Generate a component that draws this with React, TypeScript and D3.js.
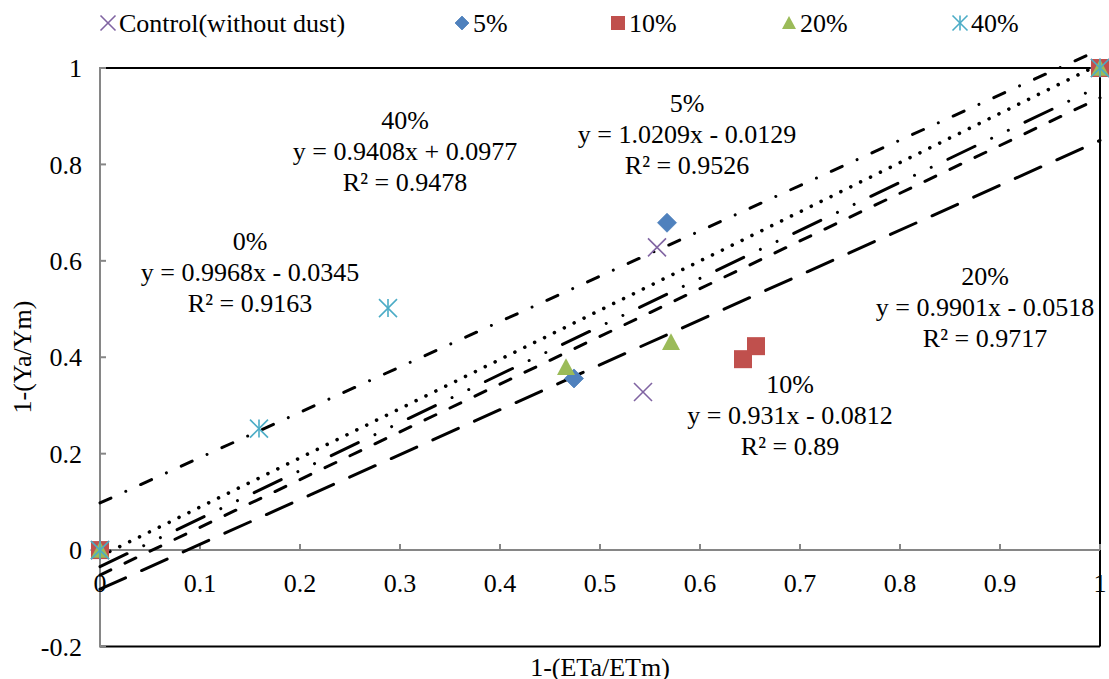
import React from 'react';
import * as d3 from 'd3';

// series points
const controlX = [0, 0.543, 0.557, 1];
const controlY = [0, 0.328, 0.628, 1];
const p5X = [0, 0.474, 0.567, 1];
const p5Y = [0, 0.356, 0.679, 1];
const p10X = [0, 0.643, 0.656, 1];
const p10Y = [0, 0.396, 0.423, 1];
const p20X = [0, 0.466, 0.571, 1];
const p20Y = [0, 0.379, 0.431, 1];
const p40X = [0, 0.159, 0.288, 1];
const p40Y = [0, 0.252, 0.502, 1];

const seriesNames = ['Control(without dust)', '5%', '10%', '20%', '40%'];
const seriesColors = ['#8064A2', '#4F81BD', '#C0504D', '#9BBB59', '#4BACC6'];

// trendlines: 0%, 5%, 10%, 20%, 40%
const trendNames = ['0%', '5%', '10%', '20%', '40%'];
const trendSlopes = [0.9968, 1.0209, 0.931, 0.9901, 0.9408];
const trendIntercepts = [-0.0345, -0.0129, -0.0812, -0.0518, 0.0977];
const trendEquations = ['y = 0.9968x - 0.0345', 'y = 1.0209x - 0.0129', 'y = 0.931x - 0.0812', 'y = 0.9901x - 0.0518', 'y = 0.9408x + 0.0977'];
const trendR2 = ['R² = 0.9163', 'R² = 0.9526', 'R² = 0.89', 'R² = 0.9717', 'R² = 0.9478'];

const xTicks = [0, 0.1, 0.2, 0.3, 0.4, 0.5, 0.6, 0.7, 0.8, 0.9, 1];
const yTicks = [-0.2, 0, 0.2, 0.4, 0.6, 0.8, 1];

const W = 1109;
const H = 679;
const FONT = '"Liberation Serif", "Times New Roman", serif';
const FS = 26;

const x = d3.scaleLinear().domain([0, 1]).range([100, 1100]);
const y = d3.scaleLinear().domain([-0.2, 1]).range([646.5, 68]);

// dash styles per trendline
const dashes = ['30 18.5 0.01 18.5 0.01 18.5', '0.01 11', '28 17.6', '12 15.7', '12 16.3 0.01 16.3'];
const labelPos: [number, number][] = [[250, 241], [687, 103], [790, 384], [985, 276], [405, 120]];

// plain hyphen for negatives, like the original
const tickFmt = (t: number) => String(+t.toFixed(1));

function Marker({ kind, cx, cy, s }: { kind: number; cx: number; cy: number; s: number }) {
  const c = seriesColors[kind];
  const h = s / 2;
  if (kind === 0) {
    return (
      <g stroke={c} strokeWidth={1.6}>
        <line x1={cx - h} y1={cy - h} x2={cx + h} y2={cy + h} />
        <line x1={cx - h} y1={cy + h} x2={cx + h} y2={cy - h} />
      </g>
    );
  }
  if (kind === 1) {
    return <path d={`M${cx},${cy - h}L${cx + h},${cy}L${cx},${cy + h}L${cx - h},${cy}Z`} fill={c} stroke={c} strokeWidth={0.8} />;
  }
  if (kind === 2) {
    return <rect x={cx - h} y={cy - h} width={s} height={s} fill={c} />;
  }
  if (kind === 3) {
    return <path d={`M${cx},${cy - h}L${cx + h},${cy + h * 0.85}L${cx - h},${cy + h * 0.85}Z`} fill={c} />;
  }
  return (
    <g stroke={c} strokeWidth={1.6}>
      <line x1={cx - h} y1={cy - h} x2={cx + h} y2={cy + h} />
      <line x1={cx - h} y1={cy + h} x2={cx + h} y2={cy - h} />
      <line x1={cx} y1={cy - h} x2={cx} y2={cy + h} />
    </g>
  );
}

export default function App() {
  const pts = [
    [controlX, controlY],
    [p5X, p5Y],
    [p10X, p10Y],
    [p20X, p20Y],
    [p40X, p40Y],
  ];
  const line = d3.line<number[]>().x((d) => x(d[0])).y((d) => y(d[1]));
  const legendX = [108, 462, 618, 789, 960];

  return (
    <div style={{ position: 'absolute', left: 0, top: 0 }}>
      <svg width={W} height={H} style={{ display: 'block', background: '#fff' }} fontFamily={FONT} fontSize={FS}>
        {/* plot frame */}
        <line x1={x(0)} y1={y(1)} x2={x(1)} y2={y(1)} stroke="#000" strokeWidth={2} />
        <line x1={x(1)} y1={y(1)} x2={x(1)} y2={y(-0.2)} stroke="#000" strokeWidth={2} />
        <line x1={x(0)} y1={y(-0.2)} x2={x(1)} y2={y(-0.2)} stroke="#000" strokeWidth={2} />

        {/* axes */}
        <line x1={x(0)} y1={y(1) - 1} x2={x(0)} y2={y(-0.2) + 1} stroke="#868686" strokeWidth={2} />
        <line x1={x(0)} y1={y(0)} x2={x(1)} y2={y(0)} stroke="#868686" strokeWidth={2} />
        {yTicks.map((t) => (
          <line key={'yt' + t} x1={x(0)} x2={x(0) + 6} y1={y(t)} y2={y(t)} stroke="#868686" strokeWidth={2} />
        ))}
        {xTicks.map((t) => (
          <line key={'xt' + t} x1={x(t)} x2={x(t)} y1={y(0)} y2={y(0) - 6} stroke="#868686" strokeWidth={2} />
        ))}
        {yTicks.map((t) => (
          <text key={'yl' + t} x={82} y={y(t)} dy="0.35em" textAnchor="end">
            {tickFmt(t)}
          </text>
        ))}
        {xTicks.map((t) => (
          <text key={'xl' + t} x={x(t)} y={583} dy="0.35em" textAnchor="middle">
            {tickFmt(t)}
          </text>
        ))}

        {/* trendlines */}
        {trendSlopes.map((m, i) => (
          <path
            key={'tr' + i}
            d={line([[0, trendIntercepts[i]], [1, m + trendIntercepts[i]]]) || ''}
            fill="none"
            stroke="#000"
            strokeWidth={i === 1 ? 3.6 : 3}
            strokeLinecap="round"
            strokeDasharray={dashes[i]}
          />
        ))}

        {/* points */}
        {pts.map(([xs, ys], k) =>
          xs.map((v, j) => <Marker key={`m${k}-${j}`} kind={k} cx={x(v)} cy={y(ys[j])} s={k === 1 ? 19 : 18} />)
        )}

        {/* trendline labels */}
        {trendNames.map((n, i) => (
          <text key={'lab' + i} x={labelPos[i][0]} y={labelPos[i][1]} textAnchor="middle" dy="0.35em">
            <tspan x={labelPos[i][0]}>{n}</tspan>
            <tspan x={labelPos[i][0]} dy={31}>{trendEquations[i]}</tspan>
            <tspan x={labelPos[i][0]} dy={31}>{trendR2[i]}</tspan>
          </text>
        ))}

        {/* legend */}
        {seriesNames.map((n, i) => (
          <g key={'lg' + i}>
            <Marker kind={i} cx={legendX[i]} cy={23} s={i === 0 || i === 4 ? 15 : 14} />
            <text x={legendX[i] + 11} y={23} dy="0.35em">{n}</text>
          </g>
        ))}

        {/* axis titles */}
        <text x={600} y={667} dy="0.35em" textAnchor="middle">1-(ETa/ETm)</text>
        <text transform={`translate(22,357) rotate(-90)`} dy="0.35em" textAnchor="middle">1-(Ya/Ym)</text>
      </svg>
    </div>
  );
}
